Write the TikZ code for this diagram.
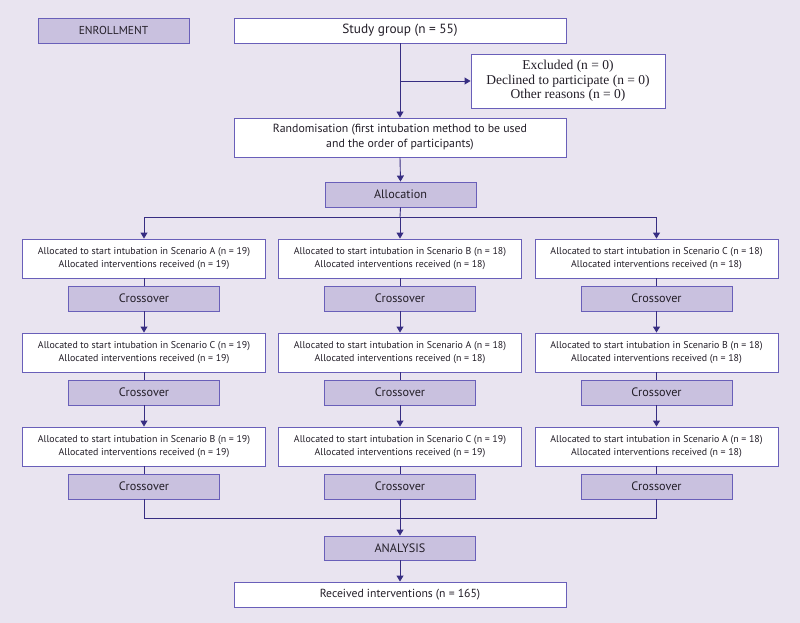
\documentclass[tikz,border=0pt]{standalone}
\usepackage{fontspec}
\setmainfont{PT Sans}
\newfontfamily\exserif{Liberation Serif}
\usetikzlibrary{arrows.meta}
\definecolor{bgc}{RGB}{233,228,240}
\definecolor{shade}{RGB}{201,193,223}
\definecolor{bord}{RGB}{105,95,185}
\definecolor{arr}{RGB}{55,45,130}
\definecolor{txt}{RGB}{35,30,40}
\begin{document}
\begin{tikzpicture}[x=1pt,y=-1pt,
  base/.style={draw=bord, line width=0.9pt, inner sep=1pt, align=center, text=txt},
  wbox/.style={base, fill=white},
  sbox/.style={base, fill=shade, minimum width=151pt, minimum height=25pt, font=\fontsize{12.2}{14}\selectfont},
  colbox/.style={wbox, minimum width=243pt, minimum height=39pt, font=\fontsize{9.9}{12.8}\selectfont},
  wide/.style={wbox, minimum width=332pt},
  con/.style={draw=arr, line width=0.9pt},
  arrow/.style={con, -{Triangle[width=7pt,length=6pt]}}
]
\fill[bgc] (0,0) rectangle (800,623);
\useasboundingbox (0,0) rectangle (800,623);

\node[sbox, font=\fontsize{11.5}{13}\selectfont] (enr) at (113.5,30.5) {ENROLLMENT};
\node[wide, minimum height=25pt, font=\fontsize{13.3}{15}\selectfont] (sg) at (400,30.5) {Study group (n = 55)};
\node[wbox, minimum width=194pt, minimum height=54pt, font=\exserif\fontsize{13.5}{14.5}\selectfont] (exc) at (568,81) {Excluded (n = 0)\\Declined to participate (n = 0)\\Other reasons (n = 0)};
\node[wide, minimum height=39pt, font=\fontsize{11.8}{15}\selectfont] (rnd) at (400,137.5) {Randomisation (first intubation method to be used\\and the order of participants)};
\node[sbox] (alloc) at (400.5,194.5) {Allocation};

% column A
\node[colbox] (a1) at (144,258.5) {Allocated to start intubation in Scenario A (n = 19)\\Allocated interventions received (n = 19)};
\node[sbox] (xa1) at (144,298.5) {Crossover};
\node[colbox] (a2) at (144,352.5) {Allocated to start intubation in Scenario C (n = 19)\\Allocated interventions received (n = 19)};
\node[sbox] (xa2) at (144,392.5) {Crossover};
\node[colbox] (a3) at (144,446.5) {Allocated to start intubation in Scenario B (n = 19)\\Allocated interventions received (n = 19)};
\node[sbox] (xa3) at (144,486.5) {Crossover};

% column B
\node[colbox] (b1) at (400,258.5) {Allocated to start intubation in Scenario B (n = 18)\\Allocated interventions received (n = 18)};
\node[sbox] (xb1) at (400,298.5) {Crossover};
\node[colbox] (b2) at (400,352.5) {Allocated to start intubation in Scenario A (n = 18)\\Allocated interventions received (n = 18)};
\node[sbox] (xb2) at (400,392.5) {Crossover};
\node[colbox] (b3) at (400,446.5) {Allocated to start intubation in Scenario C (n = 19)\\Allocated interventions received (n = 19)};
\node[sbox] (xb3) at (400,486.5) {Crossover};

% column C
\node[colbox] (c1) at (656.5,258.5) {Allocated to start intubation in Scenario C (n = 18)\\Allocated interventions received (n = 18)};
\node[sbox] (xc1) at (656.5,298.5) {Crossover};
\node[colbox] (c2) at (656.5,352.5) {Allocated to start intubation in Scenario B (n = 18)\\Allocated interventions received (n = 18)};
\node[sbox] (xc2) at (656.5,392.5) {Crossover};
\node[colbox] (c3) at (656.5,446.5) {Allocated to start intubation in Scenario A (n = 18)\\Allocated interventions received (n = 18)};
\node[sbox] (xc3) at (656.5,486.5) {Crossover};

\node[sbox, minimum height=24pt] (ana) at (400,548) {ANALYSIS};
\node[wide, minimum height=25pt, font=\fontsize{11.7}{13}\selectfont] (recv) at (400,594.5) {Received interventions (n = 165)};

% connectors
\coordinate (br) at (400,81);
\coordinate (split) at (400,217);
\coordinate (merge) at (400,518);
\draw[arrow] (sg.south) -- (rnd.north);
\draw[arrow] (br) -- (exc.west);
\draw[arrow] (rnd.south) -- (alloc.north);
\draw[con] (alloc.south) -- (split);
\draw[arrow] (split) -| (a1.north);
\draw[arrow] (split) -| (c1.north);
\draw[arrow] (split) -- (b1.north);

\foreach \c in {a,b,c}{
  \draw[con] (\c1.south) -- (x\c1.north);
  \draw[arrow] (x\c1.south) -- (\c2.north);
  \draw[con] (\c2.south) -- (x\c2.north);
  \draw[arrow] (x\c2.south) -- (\c3.north);
  \draw[con] (\c3.south) -- (x\c3.north);
}
\draw[con] (xa3.south) |- (merge);
\draw[con] (xc3.south) |- (merge);
\draw[arrow] (xb3.south) -- (ana.north);
\draw[arrow] (ana.south) -- (recv.north);
\end{tikzpicture}
\end{document}
